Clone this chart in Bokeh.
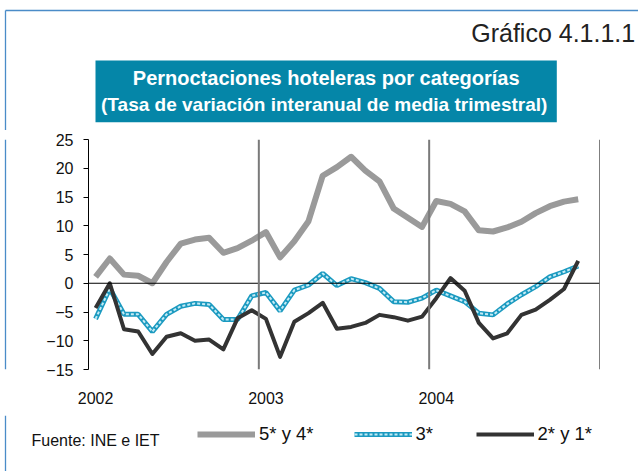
from bokeh.plotting import figure
from bokeh.layouts import column, row
from bokeh.models import (Range1d, FixedTicker, Span, Legend, LegendItem, ColumnDataSource)
from bokeh.core.properties import value
from bokeh.embed import file_html
from bokeh.resources import INLINE

# ---- data (monthly, Jan 2002 - Nov 2004) ----
years = [2002, 2003, 2004]
periods = [f"{y}-{m:02d}" for y in years for m in range(1, 13)][:35]

cat_5y4 = [1.1, 4.3, 1.5, 1.3, 0.0, 3.7, 6.9, 7.6, 7.9, 5.3, 6.1, 7.4,
           8.9, 4.5, 7.3, 10.8, 18.7, 20.2, 22.0, 19.6, 17.7, 13.0, 11.4, 9.8,
           14.3, 13.8, 12.5, 9.2, 9.0, 9.7, 10.7, 12.2, 13.4, 14.2, 14.6]
cat_3 = [-6.2, -0.9, -5.4, -5.4, -8.4, -5.4, -4.0, -3.5, -3.7, -6.3, -6.3, -2.2,
         -1.6, -4.8, -1.2, -0.3, 1.7, -0.4, 0.8, 0.1, -0.9, -3.2, -3.3, -2.6,
         -1.2, -2.2, -3.2, -5.2, -5.5, -3.6, -2.0, -0.6, 1.1, 2.0, 3.0]
cat_2y1 = [-4.3, 0.0, -8.0, -8.4, -12.3, -9.3, -8.7, -10.0, -9.8, -11.5, -6.1, -4.7,
           -6.2, -12.8, -6.7, -5.2, -3.4, -7.9, -7.6, -6.9, -5.5, -5.9, -6.5, -5.8,
           -2.6, 0.9, -1.3, -6.9, -9.6, -8.7, -5.5, -4.6, -2.9, -1.0, 3.9]
series_names = ["5* y 4*", "3*", "2* y 1*"]
y_ticks = [-15, -10, -5, 0, 5, 10, 15, 20, 25]
year_labels = ["2002", "2003", "2004"]
chart_number = "Gráfico 4.1.1.1"
title_lines = ["Pernoctaciones hoteleras por categorías",
               "(Tasa de variación interanual de media trimestral)"]
source_note = "Fuente: INE e IET"

FONT = "Liberation Sans"
BORDER = "#4a8cc8"
GRAY, BLUE, BLUE_LIGHT, DARK = "#9a9a9a", "#1b9ac0", "#c4ebf5", "#333333"

W, H_HDR, H_MAIN, H_FTR, STRIP = 638, 130, 285, 56, 8


def blank(width, height):
    f = figure(width=width, height=height, x_range=Range1d(0, width),
               y_range=Range1d(height, 0), x_axis_type=None, y_axis_type=None,
               output_backend="svg", toolbar_location=None,
               min_border=0, min_border_left=0, min_border_right=0,
               min_border_top=0, min_border_bottom=0)
    f.outline_line_color = None
    f.background_fill_color = "white"
    f.border_fill_color = "white"
    return f


# ---------------- header ----------------
hdr = blank(W, H_HDR)
hdr.segment(x0=[5, 5], y0=[10, 10], x1=[W, 5], y1=[10, H_HDR],
            line_color=BORDER, line_width=1.3)
hdr.text(x=[634.7], y=[32], text=[chart_number], text_align="right",
         text_baseline="middle", text_font=value(FONT), text_font_size="25px",
         text_color="#222222")
hdr.quad(left=[95], right=[556.3], top=[60], bottom=[121.7],
         fill_color="#0586a8", line_color=None)
hdr.text(x=[325.7], y=[77.5], text=[title_lines[0]], text_align="center",
         text_baseline="middle", text_font=value(FONT), text_font_style="bold",
         text_font_size="20px", text_color="white")
hdr.text(x=[323.7], y=[104], text=[title_lines[1]], text_align="center",
         text_baseline="middle", text_font=value(FONT), text_font_style="bold",
         text_font_size="19px", text_color="white")

# ---------------- left border strip ----------------
strip = blank(STRIP, H_MAIN)
strip.segment(x0=[5], y0=[0], x1=[5], y1=[H_MAIN], line_color=BORDER, line_width=1.3)

# ---------------- main chart ----------------
xs = [int(p[:4]) + (int(p[5:]) - 0.5) / 12 for p in periods]
src = ColumnDataSource(dict(x=xs, a=cat_5y4, b=cat_3, c=cat_2y1))

p = figure(width=W - STRIP, height=H_MAIN, output_backend="svg", toolbar_location=None,
           x_range=Range1d(2002, 2005), y_range=Range1d(-15, 25),
           min_border_left=80, min_border_right=39, min_border_top=9,
           min_border_bottom=46)
p.outline_line_color = None
p.xgrid.visible = False
p.ygrid.visible = False
p.background_fill_color = "white"
p.border_fill_color = "white"

ya = p.yaxis[0]
ya.ticker = FixedTicker(ticks=y_ticks)
ya.minor_tick_line_color = None
ya.major_tick_in = 0
ya.major_tick_out = 5
ya.axis_line_color = "black"
ya.major_tick_line_color = "black"
ya.major_label_text_font = FONT
ya.major_label_text_font_size = "16px"
ya.major_label_text_color = "#111111"
ya.major_label_standoff = 10

xa = p.xaxis[0]
tick_pos = [y + 0.5 / 12 for y in years]
xa.ticker = FixedTicker(ticks=tick_pos)
xa.major_label_overrides = {t: l for t, l in zip(tick_pos, year_labels)}
xa.axis_line_color = None
xa.major_tick_line_color = None
xa.minor_tick_line_color = None
xa.major_label_text_font = FONT
xa.major_label_text_font_size = "16px"
xa.major_label_text_color = "#111111"
xa.major_label_standoff = 16

p.add_layout(Span(location=0, dimension="width", line_color="black", line_width=1))
for y in years[1:]:
    p.add_layout(Span(location=y, dimension="height", line_color="#7a7a7a", line_width=2))
p.add_layout(Span(location=2005, dimension="height", line_color="black", line_width=1))

p.line("x", "a", source=src, line_color=GRAY, line_width=6, line_join="round")
p.line("x", "b", source=src, line_color=BLUE, line_width=5)
p.line("x", "b", source=src, line_color=BLUE_LIGHT, line_width=2, line_dash="3 2")
p.line("x", "c", source=src, line_color=DARK, line_width=4, line_join="round")

# ---------------- footer (legend + source) ----------------
ftr = blank(W, H_FTR)
ftr.segment(x0=[5], y0=[0], x1=[5], y1=[H_FTR], line_color=BORDER, line_width=1.3)
ftr.text(x=[31], y=[24.5], text=[source_note], text_align="left", text_baseline="middle",
         text_font=value(FONT), text_font_size="16px", text_color="#111111")
# legend proxies (kept off-canvas; only their styles are used by the legend)
off = dict(x=[-50, -40], y=[-50, -50])
la = ftr.line(line_color=GRAY, line_width=6, **off)
lb1 = ftr.line(line_color=BLUE, line_width=5, **off)
lb2 = ftr.line(line_color=BLUE_LIGHT, line_width=2, line_dash="3 2", **off)
lc = ftr.line(line_color=DARK, line_width=4, **off)
legend = Legend(items=[LegendItem(label=series_names[0], renderers=[la]),
                       LegendItem(label=series_names[1], renderers=[lb1, lb2]),
                       LegendItem(label=series_names[2], renderers=[lc])],
                orientation="horizontal", location=(197, 26),
                glyph_width=58, glyph_height=20, label_standoff=4, spacing=40,
                padding=0, margin=0, border_line_color=None,
                background_fill_alpha=0,
                label_text_font=FONT, label_text_font_size="18.5px",
                label_text_color="#111111")
ftr.add_layout(legend, "center")

layout = column(hdr, row(strip, p), ftr)
open("out.html", "w").write(file_html(layout, INLINE))
